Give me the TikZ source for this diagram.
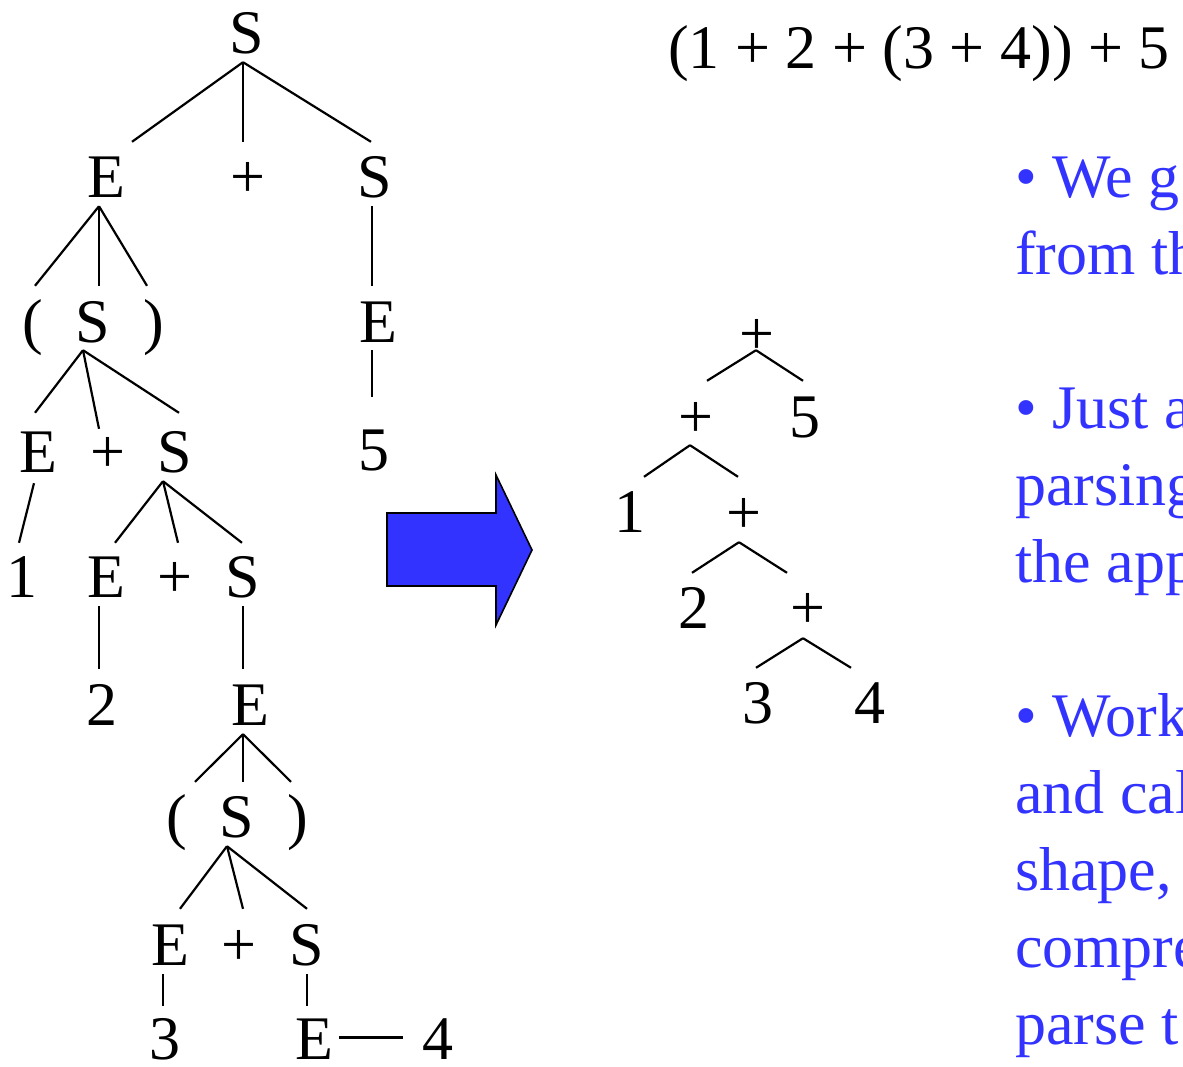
\documentclass[tikz,border=0pt]{standalone}
\usepackage{fontspec}
\setmainfont{Liberation Serif}
\usepackage{xcolor}
\usepackage{tikz}
\definecolor{slideblue}{RGB}{51,51,255}

\begin{document}
\begin{tikzpicture}[
    x=1pt, y=-1pt,
    %% Grammar symbols of both trees
    sym/.style = {
      inner sep=0pt, anchor=base,
      text height=41pt, text depth=0pt,
      font=\fontsize{62}{62}\selectfont},
    branch/.style = {line width=2.2pt, black},
    %% Blue slide text on the right
    bluetext/.style = {
      inner sep=0pt, anchor=base west, text=slideblue,
      font=\fontsize{62}{62}\selectfont},
    bigarrow/.style = {fill=slideblue, draw=black, line width=1.6pt, line join=miter},
  ]
    \clip (0,0) rectangle (1183,1066);

    %% ── Parse tree ─────────────────────────────────────────────────────
    \node[sym] (S0) at (247,53)  {S};
    \node[sym] (E1) at (106,197) {E};
    \node[sym] (P1) at (248,197) {+};
    \node[sym] (S1) at (375,197) {S};

    \node[sym] (L2) at (33,342)  {(};
    \node[sym] (S2) at (93,342)  {S};
    \node[sym] (R2) at (154,342) {)};
    \node[sym] (E3) at (378,342) {E};

    \node[sym] (E4) at (38,472)  {E};
    \node[sym] (P4) at (108,472) {+};
    \node[sym] (S4) at (175,472) {S};
    \node[sym] (N5) at (374,470) {5};

    \node[sym] (N1) at (22,597)  {1};
    \node[sym] (E5) at (106,597) {E};
    \node[sym] (P5) at (175,597) {+};
    \node[sym] (S5) at (243,597) {S};

    \node[sym] (N2) at (102,725) {2};
    \node[sym] (E6) at (250,725) {E};

    \node[sym] (L7) at (177,837) {(};
    \node[sym] (S7) at (237,837) {S};
    \node[sym] (R7) at (298,837) {)};

    \node[sym] (E8) at (170,965) {E};
    \node[sym] (P8) at (239,965) {+};
    \node[sym] (S8) at (307,965) {S};

    \node[sym] (N3) at (165,1059) {3};
    \node[sym] (E9) at (314,1059) {E};
    \node[sym] (N4) at (438,1059) {4};

    \draw[branch] ([shift={(-4,9)}]S0.south) -- ([shift={(26,-14)}]E1.north);
    \draw[branch] ([shift={(-4,9)}]S0.south) -- ([shift={(-5,-14)}]P1.north);
    \draw[branch] ([shift={(-4,9)}]S0.south) -- ([shift={(-4,-14)}]S1.north);

    \draw[branch] ([shift={(-7,9)}]E1.south) -- ([shift={(2,-15)}]L2.north);
    \draw[branch] ([shift={(-7,9)}]E1.south) -- ([shift={(6,-15)}]S2.north);
    \draw[branch] ([shift={(-7,9)}]E1.south) -- ([shift={(-7,-15)}]R2.north);
    \draw[branch] ([shift={(-3,9)}]S1.south) -- ([shift={(-6,-15)}]E3.north);

    \draw[branch] ([shift={(-10,8)}]S2.south) -- ([shift={(-3,-18)}]E4.north);
    \draw[branch] ([shift={(-10,8)}]S2.south) -- ([shift={(-9,-2)}]P4.north);
    \draw[branch] ([shift={(-10,8)}]S2.south) -- ([shift={(4,-18)}]S4.north);
    \draw[branch] ([shift={(-6,8)}]E3.south) -- ([shift={(-2,-32)}]N5.north);

    \draw[branch] ([shift={(-4,11)}]E4.south) -- ([shift={(-3,-13)}]N1.north);
    \draw[branch] ([shift={(-12,9)}]S4.south) -- ([shift={(9,-13)}]E5.north);
    \draw[branch] ([shift={(-12,9)}]S4.south) -- ([shift={(3,-13)}]P5.north);
    \draw[branch] ([shift={(-12,9)}]S4.south) -- ([shift={(-1,-13)}]S5.north);

    \draw[branch] ([shift={(-7,9)}]E5.south) -- ([shift={(-3,-15)}]N2.north);
    \draw[branch] ([shift={(0,9)}]S5.south)  -- ([shift={(-7,-15)}]E6.north);

    \draw[branch] ([shift={(-7,9)}]E6.south) -- ([shift={(18,-14)}]L7.north);
    \draw[branch] ([shift={(-7,9)}]E6.south) -- ([shift={(6,-14)}]S7.north);
    \draw[branch] ([shift={(-7,9)}]E6.south) -- ([shift={(-7,-14)}]R7.north);

    \draw[branch] ([shift={(-10,9)}]S7.south) -- ([shift={(10,-15)}]E8.north);
    \draw[branch] ([shift={(-10,9)}]S7.south) -- ([shift={(4,-15)}]P8.north);
    \draw[branch] ([shift={(-10,9)}]S7.south) -- ([shift={(0,-15)}]S8.north);

    \draw[branch] ([shift={(-7,9)}]E8.south) -- ([shift={(-2,-12)}]N3.north);
    \draw[branch] ([shift={(0,9)}]S8.south)  -- ([shift={(-7,-12)}]E9.north);
    \draw[branch] ([shift={(6,-1)}]E9.east)  -- ([shift={(-19,-1)}]N4.west);

    %% ── Block arrow ────────────────────────────────────────────────────
    \draw[bigarrow] (387,513) -- (496,513) -- (496,475) -- (532,550)
      -- (496,625) -- (496,586) -- (387,586) -- cycle;

    %% ── Abstract syntax tree ───────────────────────────────────────────
    \node[sym] (T0) at (757,354) {+};
    \node[sym] (T1) at (696,437) {+};
    \node[sym] (F5) at (805,437) {5};
    \node[sym] (D1) at (630,532) {1};
    \node[sym] (T2) at (744,533) {+};
    \node[sym] (D2) at (694,628) {2};
    \node[sym] (T3) at (808,628) {+};
    \node[sym] (D3) at (758,723) {3};
    \node[sym] (D4) at (870,723) {4};

    \draw[branch] ([shift={(-1,-4)}]T0.south) -- ([shift={(11,-15)}]T1.north);
    \draw[branch] ([shift={(-1,-4)}]T0.south) -- ([shift={(-2,-15)}]F5.north);
    \draw[branch] ([shift={(-6,8)}]T1.south)  -- ([shift={(14,-14)}]D1.north);
    \draw[branch] ([shift={(-6,8)}]T1.south)  -- ([shift={(-6,-15)}]T2.north);
    \draw[branch] ([shift={(-5,9)}]T2.south)  -- ([shift={(-2,-14)}]D2.north);
    \draw[branch] ([shift={(-5,9)}]T2.south)  -- ([shift={(-21,-14)}]T3.north);
    \draw[branch] ([shift={(-5,10)}]T3.south) -- ([shift={(-2,-14)}]D3.north);
    \draw[branch] ([shift={(-5,10)}]T3.south) -- ([shift={(-19,-14)}]D4.north);

    %% ── Expression and notes ───────────────────────────────────────────
    \node[sym, anchor=base west] (expr) at (668,68) {(1 + 2 + (3 + 4)) + 5};

    \foreach \r/\txt in {0/{• We g}, 1/{from th}, 3/{• Just a}, 4/{parsing},
                         5/{the app}, 7/{• Work}, 8/{and cal}, 9/{shape,},
                         10/{compre}, 11/{parse t}}
      \node[bluetext] (line\r) at (1015,{197+77*\r}) {\txt};

\end{tikzpicture}
\end{document}
